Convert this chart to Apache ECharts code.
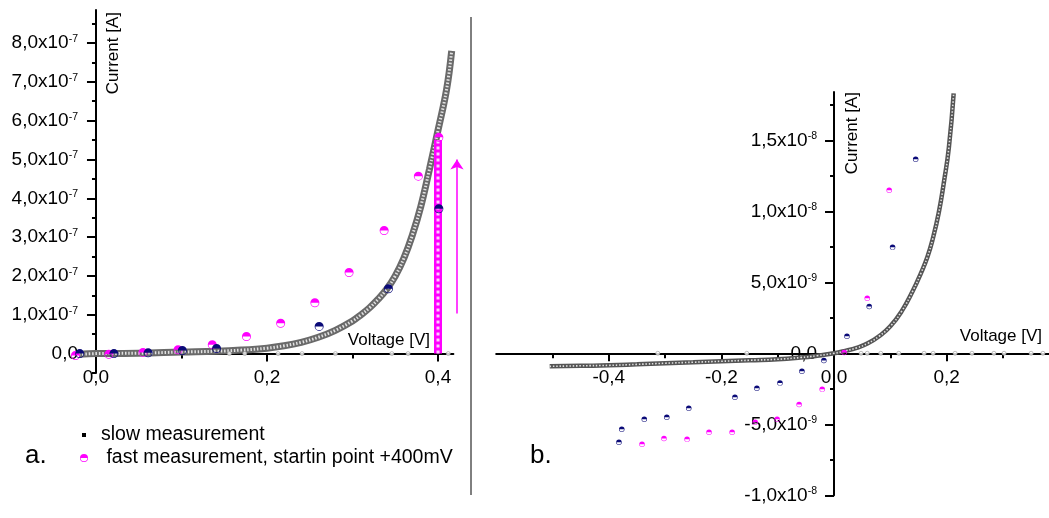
<!DOCTYPE html>
<html>
<head>
<meta charset="utf-8">
<script src="https://cdn.jsdelivr.net/npm/echarts@6/dist/echarts.min.js"></script>
<style>
html,body{margin:0;padding:0;background:#fff;}
#c{width:1049px;height:518px;}
</style>
</head>
<body>
<div id="c"></div>
<script>
// ---------------- data (panel a: current in A, voltage in V) ----------------
const leftSlowX = [-0.02, 0, 0.05, 0.1, 0.14, 0.17, 0.2, 0.22, 0.24, 0.26, 0.28, 0.3, 0.31, 0.32, 0.33, 0.34, 0.35, 0.36, 0.37, 0.38, 0.39, 0.4, 0.41, 0.416];
const leftSlowY = [-0.02e-7, 0, 0.01e-7, 0.04e-7, 0.06e-7, 0.09e-7, 0.14e-7, 0.2e-7, 0.29e-7, 0.42e-7, 0.6e-7, 0.84e-7, 1.0e-7, 1.18e-7, 1.4e-7, 1.66e-7, 2.0e-7, 2.45e-7, 3.05e-7, 3.8e-7, 4.75e-7, 5.75e-7, 6.8e-7, 7.8e-7];
const leftFastX = [-0.024, 0.015, 0.055, 0.096, 0.136, 0.176, 0.216, 0.256, 0.296, 0.337, 0.377, 0.401];
const leftFastY = [-0.05e-7, -0.02e-7, 0.03e-7, 0.1e-7, 0.23e-7, 0.44e-7, 0.78e-7, 1.31e-7, 2.09e-7, 3.17e-7, 4.57e-7, 5.57e-7];
const leftColumnX = [0.4, 0.4];
const leftColumnY = [0, 5.5e-7];
const leftNavyX = [-0.019, 0.021, 0.061, 0.101, 0.141, 0.261, 0.342, 0.401];
const leftNavyY = [0.0, 0.0, 0.02e-7, 0.08e-7, 0.13e-7, 0.7e-7, 1.67e-7, 3.73e-7];
const leftZeroDotsX = [0.156, 0.174, 0.213, 0.241, 0.28, 0.346, 0.365, 0.412];
const leftZeroDotsY = [0, 0, 0, 0, 0, 0, 0, 0];
const arrowX = 0.4222;
const arrowY = [1.03e-7, 5.0e-7];

// ---------------- data (panel b) ----------------
const rightSlowX = [-0.505, -0.45, -0.4, -0.35, -0.3, -0.25, -0.2, -0.15, -0.1, -0.06, -0.03, 0, 0.02, 0.04, 0.06, 0.08, 0.1, 0.12, 0.14, 0.155, 0.166, 0.175, 0.186, 0.195, 0.204, 0.2125];
const rightSlowY = [-0.92e-9, -0.88e-9, -0.85e-9, -0.78e-9, -0.7e-9, -0.63e-9, -0.56e-9, -0.49e-9, -0.42e-9, -0.3e-9, -0.17e-9, 0, 0.17e-9, 0.38e-9, 0.7e-9, 1.2e-9, 1.9e-9, 2.95e-9, 4.4e-9, 5.7e-9, 6.8e-9, 8.0e-9, 9.9e-9, 12.0e-9, 14.5e-9, 18.3e-9];
const rightFastX = [-0.341, -0.302, -0.261, -0.222, -0.181, -0.14, -0.101, -0.062, -0.021, 0.018, 0.059, 0.098];
const rightFastY = [-6.4e-9, -6.0e-9, -6.06e-9, -5.56e-9, -5.56e-9, -4.86e-9, -4.65e-9, -3.6e-9, -2.54e-9, 0.05e-9, 3.87e-9, 11.48e-9];
const rightNavyX = [-0.382, -0.377, -0.337, -0.297, -0.258, -0.176, -0.137, -0.096, -0.057, -0.018, 0.023, 0.0625, 0.104, 0.145];
const rightNavyY = [-6.27e-9, -5.35e-9, -4.65e-9, -4.5e-9, -3.87e-9, -3.1e-9, -2.46e-9, -2.1e-9, -1.27e-9, -0.5e-9, 1.2e-9, 3.3e-9, 7.46e-9, 13.66e-9];
const rightZeroDotsX = [-0.313, -0.155, 0.048, 0.059, 0.083, 0.115, 0.16, 0.176, 0.215, 0.245, 0.284, 0.302, 0.35, 0.371];
const rightZeroDotsY = [0, 0, 0, 0, 0, 0, 0, 0, 0, 0, 0, 0, 0, 0];

// ---------------- ticks ----------------
const leftXTicks = [0, 0.2, 0.4];
const leftXTickLabels = ['0,0', '0,2', '0,4'];
const leftXMinor = [0.1, 0.3];
const leftYTicks = [0, 1e-7, 2e-7, 3e-7, 4e-7, 5e-7, 6e-7, 7e-7, 8e-7];
const leftYTickLabels = [['0,0', ''], ['1,0x10', '-7'], ['2,0x10', '-7'], ['3,0x10', '-7'], ['4,0x10', '-7'], ['5,0x10', '-7'], ['6,0x10', '-7'], ['7,0x10', '-7'], ['8,0x10', '-7']];
const leftYMinor = [-0.5e-7, 0.5e-7, 1.5e-7, 2.5e-7, 3.5e-7, 4.5e-7, 5.5e-7, 6.5e-7, 7.5e-7, 8.5e-7];
const rightXTicks = [-0.4, -0.2, 0, 0.2];
const rightXTickLabels = ['-0,4', '-0,2', '0,0', '0,2'];
const rightXMinor = [-0.5, -0.3, -0.1, 0.1, 0.3];
const rightYTicks = [-1e-8, -5e-9, 0, 5e-9, 1e-8, 1.5e-8];
const rightYTickLabels = [['-1,0x10', '-8'], ['-5,0x10', '-9'], ['0,0', ''], ['5,0x10', '-9'], ['1,0x10', '-8'], ['1,5x10', '-8']];
const rightYMinor = [-7.5e-9, -2.5e-9, 2.5e-9, 7.5e-9, 1.25e-8, 1.75e-8];

const slowName = 'slow measurement';
const fastName = ' fast measurement, startin point +400mV';

// ---------------- helpers ----------------
const FONT = 'Liberation Sans, Arial, sans-serif';
const zip = (xs, ys) => xs.map((x, i) => [x, ys[i]]);
const halfSym = 'path://M10 0A10 10 0 1 1 10 20A10 10 0 1 1 10 0ZM10 1.7A8.3 8.3 0 1 0 10 18.3A8.3 8.3 0 1 0 10 1.7ZM0 10A10 10 0 0 1 20 10Z';

function findIdx(ticks, v) {
  const tol = Math.abs(ticks[1] - ticks[0]) * 1e-4;
  return ticks.findIndex(t => Math.abs(t - v) < tol);
}
function yFormatter(ticks, labels) {
  return function (v) {
    const i = findIdx(ticks, v);
    if (i < 0) return '';
    const l = labels[i];
    return l[1] ? '{m|' + l[0] + '}{s|' + l[1] + '}' : '{m|' + l[0] + '}';
  };
}
function xFormatter(ticks, labels) {
  return function (v) {
    const i = findIdx(ticks, v);
    return i < 0 ? '' : labels[i];
  };
}
const richY = {
  m: { fontSize: 19, lineHeight: 19, fontFamily: FONT, color: '#000' },
  s: { fontSize: 10.5, lineHeight: 10, fontFamily: FONT, color: '#000', verticalAlign: 'top' }
};
const AX = { color: '#000', width: 2 };

function hiddenAxis(grid, min, max) {
  return { type: 'value', gridIndex: grid, min: min, max: max, show: false,
    axisLine: { show: false, onZero: false }, axisTick: { show: false }, axisLabel: { show: false }, splitLine: { show: false } };
}
function mainX(grid, min, max, ticks, labels) {
  return {
    type: 'value', gridIndex: grid, min: min, max: max, position: 'bottom',
    axisLine: { show: true, onZero: false, lineStyle: AX },
    axisTick: { show: true, inside: false, length: 8, customValues: ticks, lineStyle: AX },
    axisLabel: { show: true, customValues: ticks, margin: 15, formatter: xFormatter(ticks, labels), fontSize: 19, fontFamily: FONT, color: '#000' },
    splitLine: { show: false }
  };
}
function minorX(grid, min, max, ticks) {
  return {
    type: 'value', gridIndex: grid, min: min, max: max, position: 'bottom',
    axisLine: { show: false, onZero: false },
    axisTick: { show: true, inside: false, length: 5, customValues: ticks, lineStyle: AX },
    axisLabel: { show: false },
    splitLine: { show: false }
  };
}
function mainY(grid, min, max, ticks, labels, margin) {
  return {
    type: 'value', gridIndex: grid, min: min, max: max, position: 'left',
    axisLine: { show: true, onZero: false, lineStyle: AX },
    axisTick: { show: true, inside: false, length: 9, customValues: ticks, lineStyle: AX },
    axisLabel: { show: true, customValues: ticks, margin: margin, formatter: yFormatter(ticks, labels), rich: richY, align: 'right' },
    splitLine: { show: false }
  };
}
function minorY(grid, min, max, ticks) {
  return {
    type: 'value', gridIndex: grid, min: min, max: max, position: 'left',
    axisLine: { show: false, onZero: false },
    axisTick: { show: true, inside: false, length: 4, customValues: ticks, lineStyle: AX },
    axisLabel: { show: false },
    splitLine: { show: false }
  };
}

// axis ranges
const LX = [-0.025, 0.418], LY = [-0.5e-7, 8.85e-7];
const RX = [-0.6, 0.382], RY = [-1.0e-8, 1.84e-8];

// plot boxes (pixels)
const LB = { left: 74.6, top: 10, width: 378.8, height: 363 };
const RB = { left: 496.2, top: 92, width: 552.9, height: 403.3 };
const lZeroX = LB.left + (0 - LX[0]) / (LX[1] - LX[0]) * LB.width;
const lZeroY = LB.top + (LY[1] - 0) / (LY[1] - LY[0]) * LB.height;
const rZeroX = RB.left + (0 - RX[0]) / (RX[1] - RX[0]) * RB.width;
const rZeroY = RB.top + (RY[1] - 0) / (RY[1] - RY[0]) * RB.height;
const G = (o) => Object.assign({ outerBoundsMode: 'none', containLabel: false }, o);

const chart = echarts.init(document.getElementById('c'), null, { renderer: 'canvas' });
chart.setOption({
  animation: false,
  backgroundColor: '#fff',
  grid: [
    G({ left: LB.left, top: LB.top, width: LB.width, height: LB.height }),
    G({ left: lZeroX, top: LB.top, width: LB.left + LB.width - lZeroX, height: LB.height }),
    G({ left: LB.left, top: LB.top, width: LB.width, height: lZeroY - LB.top }),
    G({ left: RB.left, top: RB.top, width: RB.width, height: RB.height }),
    G({ left: rZeroX, top: RB.top, width: RB.left + RB.width - rZeroX, height: RB.height }),
    G({ left: RB.left, top: RB.top, width: RB.width, height: rZeroY - RB.top })
  ],
  xAxis: [
    hiddenAxis(0, LX[0], LX[1]),
    hiddenAxis(1, 0, 1),
    mainX(2, LX[0], LX[1], leftXTicks, leftXTickLabels),
    minorX(2, LX[0], LX[1], leftXMinor),
    hiddenAxis(3, RX[0], RX[1]),
    hiddenAxis(4, 0, 1),
    mainX(5, RX[0], RX[1], rightXTicks, rightXTickLabels),
    minorX(5, RX[0], RX[1], rightXMinor)
  ],
  yAxis: [
    hiddenAxis(0, LY[0], LY[1]),
    mainY(1, LY[0], LY[1], leftYTicks, leftYTickLabels, 18),
    minorY(1, LY[0], LY[1], leftYMinor),
    hiddenAxis(2, 0, 1),
    hiddenAxis(3, RY[0], RY[1]),
    mainY(4, RY[0], RY[1], rightYTicks, rightYTickLabels, 17),
    minorY(4, RY[0], RY[1], rightYMinor),
    hiddenAxis(5, 0, 1)
  ],
  legend: [
    {
      data: [{ name: slowName, icon: 'rect', itemStyle: { color: '#000', borderWidth: 0 } }],
      left: 77, top: 420, itemWidth: 4, itemHeight: 4, selectedMode: false,
      textStyle: { fontSize: 19.5, fontFamily: FONT, color: '#000', padding: [0, 0, 0, 10] }
    },
    {
      data: [{ name: fastName, icon: halfSym, itemStyle: { color: '#ff00ff', borderWidth: 0 } }],
      left: 75, top: 443, itemWidth: 8, itemHeight: 8, selectedMode: false,
      textStyle: { fontSize: 19.5, fontFamily: FONT, color: '#000', padding: [0, 0, 0, 8] }
    }
  ],
  series: [
    { name: slowName, type: 'line', xAxisIndex: 0, yAxisIndex: 0, data: zip(leftSlowX, leftSlowY), smooth: 0.4, showSymbol: false, symbol: 'none', clip: false,
      lineStyle: { color: '#6a6a6a', width: 7 }, z: 2 },
    { name: slowName, type: 'line', xAxisIndex: 0, yAxisIndex: 0, data: zip(leftSlowX, leftSlowY), smooth: 0.4, showSymbol: false, symbol: 'none', clip: false,
      lineStyle: { color: '#e2e2e2', width: 3, type: [1.5, 1.8] }, z: 3 },
    { name: 'axis points', type: 'scatter', xAxisIndex: 0, yAxisIndex: 0, data: zip(leftZeroDotsX, leftZeroDotsY), symbol: 'circle', symbolSize: 4,
      itemStyle: { color: '#fff', borderColor: '#999', borderWidth: 0.8 }, z: 9 },
    { name: fastName, type: 'line', xAxisIndex: 0, yAxisIndex: 0, data: zip(leftColumnX, leftColumnY), showSymbol: false, symbol: 'none',
      lineStyle: { color: '#ff00ff', width: 8 }, z: 4 },
    { name: fastName, type: 'line', xAxisIndex: 0, yAxisIndex: 0, data: zip(leftColumnX, leftColumnY), showSymbol: false, symbol: 'none',
      lineStyle: { color: '#ffffff', width: 3, type: [3, 3], opacity: 0.8 }, z: 5 },
    { name: fastName, type: 'scatter', xAxisIndex: 0, yAxisIndex: 0, data: zip(leftFastX, leftFastY), symbol: halfSym, symbolSize: 9,
      itemStyle: { color: '#ff00ff', opacity: 1 }, z: 6 },
    { name: 'fast measurement (navy)', type: 'scatter', xAxisIndex: 0, yAxisIndex: 0, data: zip(leftNavyX, leftNavyY), symbol: halfSym, symbolSize: 9,
      itemStyle: { color: '#0a0a78', opacity: 1 }, z: 7 },
    { name: 'arrow', type: 'lines', coordinateSystem: 'cartesian2d', xAxisIndex: 0, yAxisIndex: 0, clip: false,
      data: [{ coords: [[arrowX, arrowY[0]], [arrowX, arrowY[1]]] }], symbol: ['none', 'arrow'], symbolSize: 10,
      lineStyle: { color: '#ff00ff', width: 1.5, opacity: 1, curveness: 0 }, z: 8 },

    { name: slowName, type: 'line', xAxisIndex: 4, yAxisIndex: 4, data: zip(rightSlowX, rightSlowY), smooth: 0.5, showSymbol: false, symbol: 'none', clip: false,
      lineStyle: { color: '#555', width: 4.5 }, z: 2 },
    { name: slowName, type: 'line', xAxisIndex: 4, yAxisIndex: 4, data: zip(rightSlowX, rightSlowY), smooth: 0.5, showSymbol: false, symbol: 'none', clip: false,
      lineStyle: { color: '#e0e0e0', width: 1.6, type: [1.5, 1.8] }, z: 3 },
    { name: 'axis points', type: 'scatter', xAxisIndex: 4, yAxisIndex: 4, data: zip(rightZeroDotsX, rightZeroDotsY), symbol: 'circle', symbolSize: 4,
      itemStyle: { color: '#fff', borderColor: '#999', borderWidth: 0.8 }, z: 9 },
    { name: fastName, type: 'scatter', xAxisIndex: 4, yAxisIndex: 4, data: zip(rightFastX, rightFastY), symbol: halfSym, symbolSize: 5.5,
      itemStyle: { color: '#ff00ff', opacity: 1 }, z: 6 },
    { name: 'fast measurement (navy)', type: 'scatter', xAxisIndex: 4, yAxisIndex: 4, data: zip(rightNavyX, rightNavyY), symbol: halfSym, symbolSize: 5.5,
      itemStyle: { color: '#0a0a78', opacity: 1 }, z: 7 }
  ],
  graphic: [
    { type: 'line', shape: { x1: 471, y1: 17, x2: 471, y2: 495 }, style: { stroke: '#000', lineWidth: 1 } },
    { type: 'text', left: 25, top: 443, style: { text: 'a.', fontSize: 26, fontFamily: FONT, fill: '#000' } },
    { type: 'text', left: 530, top: 443, style: { text: 'b.', fontSize: 26, fontFamily: FONT, fill: '#000' } },
    { type: 'text', x: 430, y: 340, style: { text: 'Voltage [V]', fontSize: 17, fontFamily: FONT, fill: '#000', align: 'right', verticalAlign: 'middle' } },
    { type: 'text', x: 1042, y: 336, style: { text: 'Voltage [V]', fontSize: 17, fontFamily: FONT, fill: '#000', align: 'right', verticalAlign: 'middle' } },
    { type: 'text', x: 113, y: 12, rotation: Math.PI / 2, style: { text: 'Current [A]', fontSize: 17, fontFamily: FONT, fill: '#000', align: 'right', verticalAlign: 'middle' } },
    { type: 'text', x: 852, y: 92, rotation: Math.PI / 2, style: { text: 'Current [A]', fontSize: 17, fontFamily: FONT, fill: '#000', align: 'right', verticalAlign: 'middle' } }
  ]
});
</script>
</body>
</html>
